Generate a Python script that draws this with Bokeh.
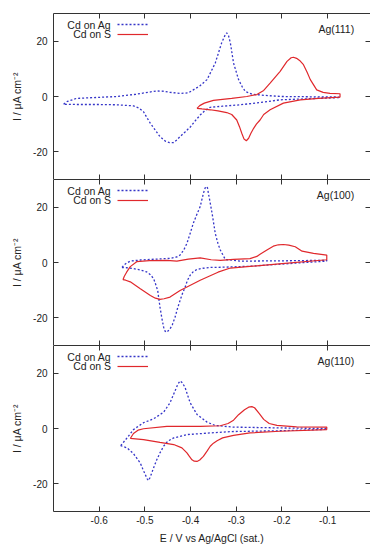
from bokeh.plotting import figure
from bokeh.models import Range1d, LinearAxis, FixedTicker, Label, Legend, LegendItem
from bokeh.layouts import column
from bokeh.core.properties import value
from bokeh.embed import file_html
from bokeh.resources import INLINE

# ---------------- data ----------------
x_ticks = [-0.6, -0.5, -0.4, -0.3, -0.2, -0.1]
x_tick_labels = ["-0.6", "-0.5", "-0.4", "-0.3", "-0.2", "-0.1"]
y_ticks = [-20, 0, 20]
y_tick_labels = ["-20", "0", "20"]
facets = ["Ag(111)", "Ag(100)", "Ag(110)"]
series_names = ["Cd on Ag", "Cd on S"]
x_label = "E / V vs Ag/AgCl (sat.)"
y_label = "I / \u03bcA cm\u207b\u00b2"

# Ag(111)
ag111_ag_E = [-0.678, -0.670, -0.650, -0.600, -0.561, -0.520, -0.490, -0.474, -0.458, -0.445,
              -0.423, -0.405, -0.394, -0.380, -0.364, -0.346, -0.332, -0.325, -0.321, -0.317,
              -0.313, -0.306, -0.295, -0.287, -0.280, -0.265, -0.230, -0.200, -0.140, -0.073,
              -0.073, -0.140, -0.204, -0.250, -0.291, -0.330, -0.357, -0.368, -0.379, -0.390,
              -0.400, -0.412, -0.423, -0.431, -0.438, -0.446, -0.455, -0.467, -0.478, -0.488,
              -0.496, -0.503, -0.513, -0.525, -0.560, -0.598, -0.640, -0.670, -0.678]
ag111_ag_I = [-2.8, -1.8, -0.7, -0.3, 0.0, 0.8, 1.6, 2.0, 1.9, 1.5,
              1.1, 1.3, 2.4, 3.8, 6.1, 12.1, 19.4, 22.0, 23.0, 22.0,
              19.4, 12.1, 6.1, 3.5, 1.8, 0.8, 0.3, 0.0, -0.1, -0.2,
              -0.4, -0.8, -1.2, -2.2, -3.0, -3.5, -3.9, -5.0, -6.7, -8.8,
              -10.9, -12.8, -14.5, -15.8, -16.7, -16.7, -16.2, -14.5, -12.0, -9.7,
              -7.5, -5.5, -4.2, -3.4, -3.0, -2.9, -2.9, -2.85, -2.8]
ag111_s_E = [-0.386, -0.380, -0.370, -0.350, -0.310, -0.277, -0.255, -0.240, -0.226, -0.204,
             -0.189, -0.180, -0.175, -0.168, -0.160, -0.153, -0.145, -0.138, -0.124, -0.110,
             -0.095, -0.073,
             -0.073, -0.120, -0.160, -0.197, -0.226, -0.240, -0.248, -0.256, -0.262, -0.268,
             -0.273, -0.278, -0.283, -0.288, -0.293, -0.299, -0.310, -0.321, -0.340, -0.357,
             -0.375, -0.386]
ag111_s_I = [-4.3, -3.3, -2.4, -1.4, -0.7, 0.0, 0.7, 2.2, 4.8, 9.1,
             12.7, 14.0, 14.2, 13.8, 12.8, 11.5, 8.8, 6.1, 2.4, 1.5,
             1.1, 1.0,
             -0.2, -0.7, -1.2, -2.4, -4.8, -6.5, -8.5, -10.0, -11.5, -13.3,
             -15.1, -16.0, -15.4, -13.3, -10.9, -8.5, -6.5, -5.8, -5.2, -4.8,
             -4.5, -4.3]

# Ag(100)
ag100_ag_E = [-0.550, -0.545, -0.540, -0.532, -0.510, -0.488, -0.445, -0.430, -0.423, -0.415,
              -0.408, -0.401, -0.394, -0.386, -0.379, -0.372, -0.368, -0.366, -0.363, -0.361,
              -0.357, -0.353, -0.346, -0.340, -0.335, -0.324, -0.290, -0.200, -0.102,
              -0.102, -0.204, -0.270, -0.330, -0.357, -0.375, -0.386, -0.394, -0.401, -0.407,
              -0.412, -0.418, -0.423, -0.429, -0.434, -0.440, -0.445, -0.452, -0.456, -0.459,
              -0.463, -0.467, -0.472, -0.477, -0.481, -0.488, -0.496, -0.510, -0.525, -0.540,
              -0.550]
ag100_ag_I = [-1.8, -0.8, -0.2, 0.5, 0.9, 1.1, 1.5, 2.0, 2.7, 4.5,
              6.9, 10.5, 14.2, 17.5, 20.2, 25.0, 27.0, 27.5, 27.0, 25.0,
              21.5, 17.8, 10.5, 6.8, 4.5, 1.1, 0.5, 0.6, 0.8,
              0.5, -0.6, -1.35, -1.7, -1.8, -2.1, -2.5, -3.3, -4.6, -6.5,
              -8.9, -11.3, -13.7, -16.8, -19.8, -22.5, -24.0, -25.2, -24.8, -23.4,
              -20.0, -16.1, -10.1, -7.6, -5.8, -4.4, -3.4, -2.7, -2.2, -1.9,
              -1.8]
ag100_s_E = [-0.548, -0.545, -0.540, -0.532, -0.518, -0.490, -0.452, -0.430, -0.405, -0.379,
             -0.355, -0.335, -0.306, -0.270, -0.255, -0.248, -0.233, -0.219, -0.208, -0.197,
             -0.185, -0.171, -0.156, -0.131, -0.102,
             -0.102, -0.200, -0.270, -0.313, -0.340, -0.379, -0.423, -0.445, -0.458, -0.467,
             -0.477, -0.488, -0.510, -0.532, -0.542, -0.548]
ag100_s_I = [-6.2, -5.0, -3.5, -1.5, 0.3, 0.7, 0.8, 0.5, 1.2, 1.7,
             1.0, 0.8, 1.1, 1.4, 2.2, 3.0, 4.5, 5.9, 6.4, 6.5,
             6.3, 5.7, 4.1, 3.3, 2.7,
             1.0, -0.4, -1.4, -2.0, -3.5, -6.4, -10.1, -12.5, -13.1, -13.3,
             -12.9, -11.9, -9.5, -7.0, -6.4, -6.2]

# Ag(110)
ag110_ag_E = [-0.553, -0.546, -0.539, -0.525, -0.503, -0.481, -0.459, -0.445, -0.434, -0.428,
              -0.423, -0.418, -0.412, -0.401, -0.386, -0.364, -0.346, -0.306, -0.200, -0.102,
              -0.102, -0.200, -0.310, -0.357, -0.408, -0.437, -0.450, -0.459, -0.467, -0.474,
              -0.480, -0.485, -0.489, -0.492, -0.495, -0.499, -0.505, -0.510, -0.525, -0.539,
              -0.553]
ag110_ag_I = [-6.2, -4.8, -3.4, -0.4, 2.1, 3.5, 5.9, 9.3, 13.6, 16.0,
              17.2, 16.5, 14.8, 9.3, 5.1, 2.3, 1.1, 0.5, 0.2, 0.0,
              -0.3, -0.8, -1.1, -1.6, -2.2, -3.4, -4.6, -6.4, -8.8, -11.3,
              -13.8, -16.1, -17.8, -18.8, -18.2, -16.7, -14.5, -12.5, -9.1, -7.0,
              -6.2]
ag110_s_E = [-0.532, -0.525, -0.515, -0.503, -0.452, -0.379, -0.335, -0.318, -0.306, -0.295,
             -0.282, -0.273, -0.266, -0.260, -0.250, -0.240, -0.228, -0.211, -0.168, -0.102,
             -0.102, -0.204, -0.270, -0.306, -0.330, -0.342, -0.350, -0.357, -0.364, -0.372,
             -0.380, -0.386, -0.392, -0.397, -0.403, -0.408, -0.419, -0.437, -0.467, -0.503,
             -0.532]
ag110_s_I = [-3.6, -1.8, -0.6, -0.1, 0.8, 0.8, 1.0, 1.8, 3.0, 5.0,
             6.8, 7.7, 7.9, 7.5, 5.5, 3.3, 1.8, 1.1, 0.6, 0.5,
             -0.4, -1.0, -1.6, -2.5, -3.4, -4.4, -5.3, -6.4, -8.2, -10.1,
             -11.4, -11.9, -11.8, -11.3, -10.0, -8.8, -7.0, -5.8, -5.0, -4.0,
             -3.6]

panels = [
    (facets[0], ag111_ag_E, ag111_ag_I, ag111_s_E, ag111_s_I),
    (facets[1], ag100_ag_E, ag100_ag_I, ag100_s_E, ag100_s_I),
    (facets[2], ag110_ag_E, ag110_ag_I, ag110_s_E, ag110_s_I),
]

# ---------------- styling ----------------
FONT = "Liberation Sans"
AXIS_COLOR = "#333333"
BLUE = "#3535c8"
RED = "#e0282c"
FRAME_W = 317
FRAME_H = 166

x_range = Range1d(-0.7, -0.0063)
y_range = Range1d(-30, 30)


def style_axis(ax, labels=True):
    ax.axis_line_color = AXIS_COLOR
    ax.axis_line_width = 1
    ax.major_tick_line_color = AXIS_COLOR
    ax.major_tick_in = 5
    ax.major_tick_out = 0
    ax.minor_tick_line_color = None
    ax.major_label_text_font = FONT
    ax.major_label_text_color = "#222222"
    if labels:
        ax.major_label_text_font_size = "10px"
    else:
        ax.major_label_text_font_size = "0px"
        ax.major_label_standoff = 0


def make_panel(idx, name, ag_E, ag_I, s_E, s_I):
    last = idx == len(panels) - 1
    p = figure(frame_width=FRAME_W, frame_height=FRAME_H,
               x_range=x_range, y_range=y_range,
               x_axis_location=None, y_axis_location=None,
               toolbar_location=None, output_backend="svg",
               min_border_left=53, min_border_right=0,
               min_border_top=13 if idx == 0 else 0, min_border_bottom=0,
               outline_line_color=None,
               background_fill_color="white", border_fill_color="white")
    p.grid.visible = False

    # left axis
    yl = LinearAxis(ticker=FixedTicker(ticks=y_ticks),
                    major_label_overrides=dict(zip(y_ticks, y_tick_labels)),
                    axis_label=y_label)
    style_axis(yl)
    yl.major_label_standoff = 6
    yl.axis_label_standoff = 7
    yl.axis_label_text_font = FONT
    yl.axis_label_text_font_size = "10.5px"
    yl.axis_label_text_font_style = "normal"
    yl.axis_label_text_color = "#222222"
    p.add_layout(yl, "left")

    # right axis (ticks only)
    yr = LinearAxis(ticker=FixedTicker(ticks=y_ticks),
                    major_label_overrides={t: "" for t in y_ticks})
    style_axis(yr, labels=False)
    yr.axis_line_color = None
    p.add_layout(yr, "right")

    # top axis (ticks only)
    xt = LinearAxis(ticker=FixedTicker(ticks=x_ticks),
                    major_label_overrides={t: "" for t in x_ticks})
    style_axis(xt, labels=False)
    p.add_layout(xt, "above")

    # bottom axis
    if last:
        xb = LinearAxis(ticker=FixedTicker(ticks=x_ticks),
                        major_label_overrides=dict(zip(x_ticks, x_tick_labels)),
                        axis_label=x_label)
        style_axis(xb)
        xb.major_label_standoff = 4
        xb.axis_label_standoff = 5
        xb.axis_label_text_font = FONT
        xb.axis_label_text_font_size = "10.5px"
        xb.axis_label_text_font_style = "normal"
        xb.axis_label_text_color = "#222222"
    else:
        xb = LinearAxis(ticker=FixedTicker(ticks=x_ticks),
                        major_label_overrides={t: "" for t in x_ticks})
        style_axis(xb, labels=False)
    p.add_layout(xb, "below")

    r_ag = p.line(ag_E, ag_I, line_color=BLUE, line_width=1.3, line_dash="2 2")
    r_s = p.line(s_E, s_I, line_color=RED, line_width=1.2)

    # facet label
    p.add_layout(Label(x=-0.042, y=24.5, text=name, text_align="right",
                       text_baseline="middle", text_font=FONT,
                       text_font_size="10.5px", text_color="#222222"))

    # legend (gnuplot style: text right-aligned, sample to the right)
    for nm, yy in zip(series_names, [26.0, 22.6]):
        p.add_layout(Label(x=-0.574, y=yy, text=nm, text_align="right",
                           text_baseline="middle", text_font=FONT,
                           text_font_size="10.5px", text_color="#222222"))
    leg = Legend(items=[LegendItem(label=value(""), renderers=[r_ag]),
                        LegendItem(label=value(""), renderers=[r_s])],
                 location=(64, FRAME_H - 26), glyph_width=31, glyph_height=10,
                 label_width=0, label_height=10, label_standoff=0,
                 label_text_font_size="0px",
                 padding=0, margin=0, spacing=0,
                 border_line_color=None, background_fill_alpha=0)
    p.add_layout(leg)
    return p


figs = [make_panel(i, *pan) for i, pan in enumerate(panels)]
layout = column(*figs, spacing=0)

with open("out.html", "w") as f:
    f.write(file_html(layout, INLINE))
